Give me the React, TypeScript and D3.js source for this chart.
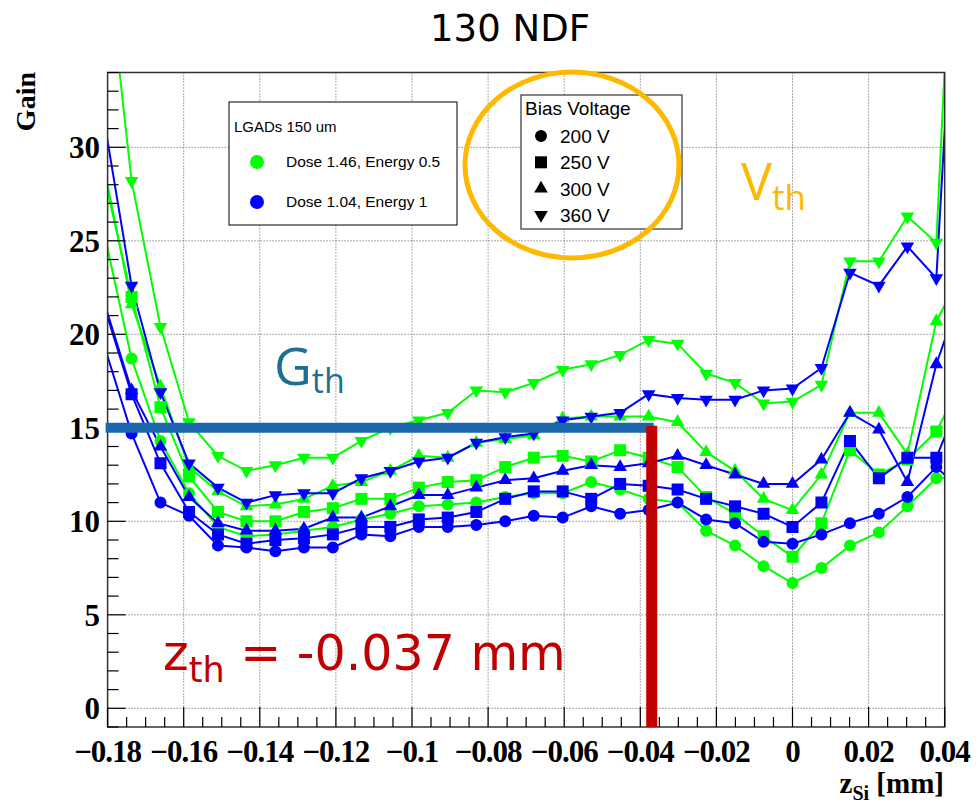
import React from 'react';
import * as d3 from 'd3';

const W = 979;
const H = 803;

// z positions of the measured points (mm)
const zValues = [-0.1812, -0.1737, -0.1661, -0.1586, -0.151, -0.1435, -0.1359, -0.1284, -0.1208, -0.1133, -0.1057, -0.0982, -0.0906, -0.0831, -0.0755, -0.068, -0.0604, -0.0529, -0.0453, -0.0378, -0.0302, -0.0227, -0.0151, -0.0076, 0, 0.0076, 0.0151, 0.0227, 0.0302, 0.0378, 0.0453];

// Dose 1.46, Energy 0.5 (green)
const green200 = [25.7, 18.7, 14.3, 11.5, 9.7, 9.2, 9.3, 9.5, 9.7, 10.1, 10.4, 10.8, 10.9, 11.0, 11.3, 11.5, 11.5, 12.1, 11.7, 11.2, 11.0, 9.5, 8.7, 7.6, 6.7, 7.5, 8.7, 9.4, 10.8, 12.3, 12.4];
const green250 = [28.7, 22.0, 16.1, 12.4, 10.5, 10.0, 10.0, 10.5, 10.7, 11.2, 11.2, 11.8, 12.1, 12.2, 12.9, 13.4, 13.5, 13.2, 13.8, 13.4, 12.9, 11.3, 10.4, 9.2, 8.1, 9.9, 13.8, 12.5, 13.3, 14.8, 17.8];
const green300 = [29.2, 21.6, 17.2, 12.9, 11.6, 10.8, 10.9, 11.2, 11.9, 12.1, 12.7, 13.5, 13.4, 14.2, 14.4, 14.6, 15.5, 15.6, 15.6, 15.6, 15.3, 13.7, 12.7, 11.2, 10.6, 12.5, 15.8, 15.8, 13.6, 20.7, 23.6];
const green360 = [42.0, 28.2, 20.4, 15.3, 13.5, 12.7, 13.0, 13.4, 13.4, 14.3, 15.0, 15.4, 15.8, 17.0, 16.9, 17.4, 18.1, 18.4, 18.9, 19.7, 19.5, 17.9, 17.4, 16.3, 16.4, 17.3, 23.9, 23.9, 26.3, 24.9, 57];

// Dose 1.04, Energy 1 (blue)
const blue200 = [19.6, 14.7, 11.0, 10.3, 8.7, 8.6, 8.4, 8.6, 8.6, 9.3, 9.2, 9.7, 9.7, 9.8, 10.0, 10.3, 10.2, 10.8, 10.4, 10.6, 11.0, 10.1, 9.9, 8.9, 8.8, 9.3, 9.9, 10.4, 11.3, 12.9, 11.5];
const blue250 = [21.7, 16.8, 13.1, 10.5, 9.3, 8.8, 9.0, 9.1, 9.3, 9.7, 9.7, 10.1, 10.2, 10.5, 11.2, 11.6, 11.6, 11.2, 12.0, 11.9, 11.7, 11.2, 10.8, 10.4, 9.7, 11.0, 14.3, 12.3, 13.4, 13.4, 17.2];
const blue300 = [21.9, 17.0, 14.0, 11.3, 9.9, 9.5, 9.5, 9.6, 10.2, 10.2, 10.8, 11.4, 11.4, 11.8, 12.2, 12.3, 12.7, 13.0, 12.9, 13.1, 13.5, 13.0, 12.5, 12.0, 12.0, 13.3, 15.8, 14.9, 12.1, 18.4, 22.8];
const blue360 = [31.8, 22.6, 16.9, 13.1, 11.8, 11.0, 11.4, 11.5, 11.5, 12.3, 12.7, 13.2, 13.4, 14.2, 14.5, 14.7, 15.4, 15.6, 15.8, 16.8, 16.6, 16.5, 16.5, 17.0, 17.1, 18.2, 23.3, 22.6, 24.7, 23.0, 50];

const xTickValues = [-0.18, -0.16, -0.14, -0.12, -0.1, -0.08, -0.06, -0.04, -0.02, 0, 0.02, 0.04];
const xTickLabels = ['\u22120.18', '\u22120.16', '\u22120.14', '\u22120.12', '\u22120.1', '\u22120.08', '\u22120.06', '\u22120.04', '\u22120.02', '0', '0.02', '0.04'];
const yTickValues = [0, 5, 10, 15, 20, 25, 30];
const yTickLabels = ['0', '5', '10', '15', '20', '25', '30'];

const voltageLabels = ['200 V', '250 V', '300 V', '360 V'];
const doseLabels = ['Dose 1.46, Energy 0.5', 'Dose 1.04, Energy 1'];

const gThreshold = 15;
const zThreshold = -0.037;

const GREEN = '#00ff00';
const BLUE = '#0000ff';
const ORANGE = '#ffb800';
const RED = '#c00000';
const TEAL = '#1f6e93';
const BAR = '#1a67ae';

const SERIF = '"Liberation Serif", "Times New Roman", serif';
const SANS = '"Liberation Sans", Arial, sans-serif';
const ANNOT = '"Open Sans", "DejaVu Sans", sans-serif';
const WIDE = '"DejaVu Sans", Verdana, sans-serif';

type Shape = 'circle' | 'square' | 'up' | 'down';

function markerPath(shape: Shape): string {
  if (shape === 'circle') return d3.symbol(d3.symbolCircle, 113)() as string;
  if (shape === 'square') return d3.symbol(d3.symbolSquare, 144)() as string;
  return d3.symbol(d3.symbolTriangle, 80)() as string;
}

export default function App() {
  const x = d3.scaleLinear().domain([-0.18, 0.04]).range([107.6, 944.7]);
  const y = d3.scaleLinear().domain([-1, 34]).range([727, 72.5]);
  const [x0, x1] = x.range();
  const [yb, yt] = y.range();

  const series: { vals: number[]; color: string; shape: Shape }[] = [
    { vals: green200, color: GREEN, shape: 'circle' },
    { vals: green250, color: GREEN, shape: 'square' },
    { vals: green300, color: GREEN, shape: 'up' },
    { vals: green360, color: GREEN, shape: 'down' },
    { vals: blue200, color: BLUE, shape: 'circle' },
    { vals: blue250, color: BLUE, shape: 'square' },
    { vals: blue300, color: BLUE, shape: 'up' },
    { vals: blue360, color: BLUE, shape: 'down' },
  ];

  const line = d3
    .line<number>()
    .x((_, i) => x(zValues[i]))
    .y((v) => y(v));

  const xMinor = d3.range(-0.18, 0.0401, 0.005);
  const yMinor = d3.range(-1, 34.01, 1);

  const legendShapes: Shape[] = ['circle', 'square', 'up', 'down'];

  return (
    <svg
      width={W}
      height={H}
      viewBox={`0 0 ${W} ${H}`}
      style={{ position: 'absolute', left: 0, top: 0, background: '#fff' }}
    >
      <defs>
        <clipPath id="plotClip">
          <rect x={x0} y={yt} width={x1 - x0} height={yb - yt} />
        </clipPath>
      </defs>
      <rect x={0} y={0} width={W} height={H} fill="#fff" />

      {/* title */}
      <text x={510} y={41} textAnchor="middle" fontFamily={WIDE} fontSize={37} fill="#000">
        130 NDF
      </text>

      {/* grid */}
      <g stroke="#555" strokeWidth={1} strokeDasharray="1 2">
        {xTickValues.slice(1, -1).map((v) => (
          <line key={'gx' + v} x1={x(v)} x2={x(v)} y1={yt} y2={yb} />
        ))}
        {yTickValues.map((v) => (
          <line key={'gy' + v} x1={x0} x2={x1} y1={y(v)} y2={y(v)} />
        ))}
      </g>

      {/* series */}
      <g clipPath="url(#plotClip)">
        {series.map((s, si) => (
          <path key={'l' + si} d={line(s.vals) as string} fill="none" stroke={s.color} strokeWidth={2} />
        ))}
        {series.map((s, si) => (
          <g key={'m' + si} fill={s.color}>
            {s.vals.map((v, i) => {
              const px = x(zValues[i]);
              if (px < x0 || px > x1) return null;
              const rot = s.shape === 'down' ? ' rotate(180)' : '';
              return <path key={i} d={markerPath(s.shape)} transform={`translate(${px},${y(v)})${rot}`} />;
            })}
          </g>
        ))}
      </g>

      {/* frame */}
      <rect x={x0} y={yt} width={x1 - x0} height={yb - yt} fill="none" stroke="#333" strokeWidth={1.5} />

      {/* ticks */}
      <g stroke="#000" strokeWidth={1.2}>
        {yMinor.map((v) => {
          const major = Math.abs(v % 5) < 1e-6;
          return <line key={'ty' + v} x1={x0} x2={x0 + (major ? 18 : 11)} y1={y(v)} y2={y(v)} />;
        })}
        {xMinor.map((v) => {
          const major = Math.abs(Math.round(v / 0.02) * 0.02 - v) < 1e-6;
          return <line key={'tx' + v} x1={x(v)} x2={x(v)} y1={yb} y2={yb - (major ? 20 : 10)} />;
        })}
      </g>

      {/* y tick labels */}
      <g fontFamily={SERIF} fontWeight="bold" fontSize={31} fill="#000" textAnchor="end">
        {yTickValues.map((v, i) => (
          <text key={'yl' + v} x={100} y={y(v) + 11}>
            {yTickLabels[i]}
          </text>
        ))}
      </g>
      {/* x tick labels */}
      <g fontFamily={SERIF} fontWeight="bold" fontSize={31} fill="#000" textAnchor="middle">
        {xTickValues.map((v, i) => (
          <text key={'xl' + v} x={x(v)} y={762} letterSpacing={-1}>
            {xTickLabels[i]}
          </text>
        ))}
      </g>

      {/* axis titles */}
      <text
        transform="translate(35,72) rotate(-90)"
        textAnchor="end"
        fontFamily={SERIF}
        fontWeight="bold"
        fontSize={28}
        fill="#000"
      >
        Gain
      </text>
      <text x={944} y={793} textAnchor="end" fontFamily={SERIF} fontWeight="bold" fontSize={29} fill="#000">
        z<tspan fontSize={20} dy={7}>Si</tspan>
        <tspan dy={-7}> [mm]</tspan>
      </text>

      {/* legend 1 */}
      <rect x={229} y={102} width={228} height={123} fill="#fff" stroke="#000" strokeWidth={1} />
      <text x={234} y={132} fontFamily={SANS} fontSize={15} fill="#000">
        LGADs 150 um
      </text>
      {doseLabels.map((lab, i) => (
        <g key={'dl' + i}>
          <circle cx={257} cy={162 + i * 40} r={7} fill={i === 0 ? GREEN : BLUE} />
          <text x={286} y={167 + i * 40} fontFamily={SANS} fontSize={15.5} fill="#000">
            {lab}
          </text>
        </g>
      ))}

      {/* legend 2 */}
      <rect x={521} y={95} width={161} height={134} fill="#fff" stroke="#333" strokeWidth={1.2} />
      <text x={525} y={115} fontFamily={SANS} fontSize={19} fill="#000">
        Bias Voltage
      </text>
      {voltageLabels.map((lab, i) => {
        const cy = 136 + i * 26.3;
        const rot = legendShapes[i] === 'down' ? ' rotate(180)' : '';
        return (
          <g key={'vl' + i}>
            <path d={markerPath(legendShapes[i])} transform={`translate(541,${cy})${rot}`} fill="#000" />
            <text x={560} y={cy + 7} fontFamily={SANS} fontSize={19} fill="#000">
              {lab}
            </text>
          </g>
        );
      })}

      {/* orange ellipse */}
      <ellipse cx={572} cy={165} rx={107} ry={93} fill="none" stroke={ORANGE} strokeWidth={5} />

      {/* V_th */}
      <text x={741} y={200} fontFamily={ANNOT} fontSize={52} fill={ORANGE}>
        V<tspan fontSize={35} dy={10}>th</tspan>
      </text>

      {/* G_th line and label */}
      <line x1={x0 - 2} x2={x(zThreshold) + 2} y1={y(gThreshold)} y2={y(gThreshold)} stroke={BAR} strokeWidth={10} />
      <text x={274} y={385} fontFamily={ANNOT} fontSize={52} fill={TEAL}>
        G<tspan fontSize={34} dy={8}>th</tspan>
      </text>

      {/* z_th bar and label */}
      <line x1={x(zThreshold)} x2={x(zThreshold)} y1={y(gThreshold) - 2} y2={yb} stroke={RED} strokeWidth={11} />
      <text x={163} y={670} fontFamily={WIDE} fontSize={49} fill={RED}>
        z<tspan fontSize={35} dy={12}>th</tspan>
        <tspan dy={-12}> = -0.037 mm</tspan>
      </text>
    </svg>
  );
}
